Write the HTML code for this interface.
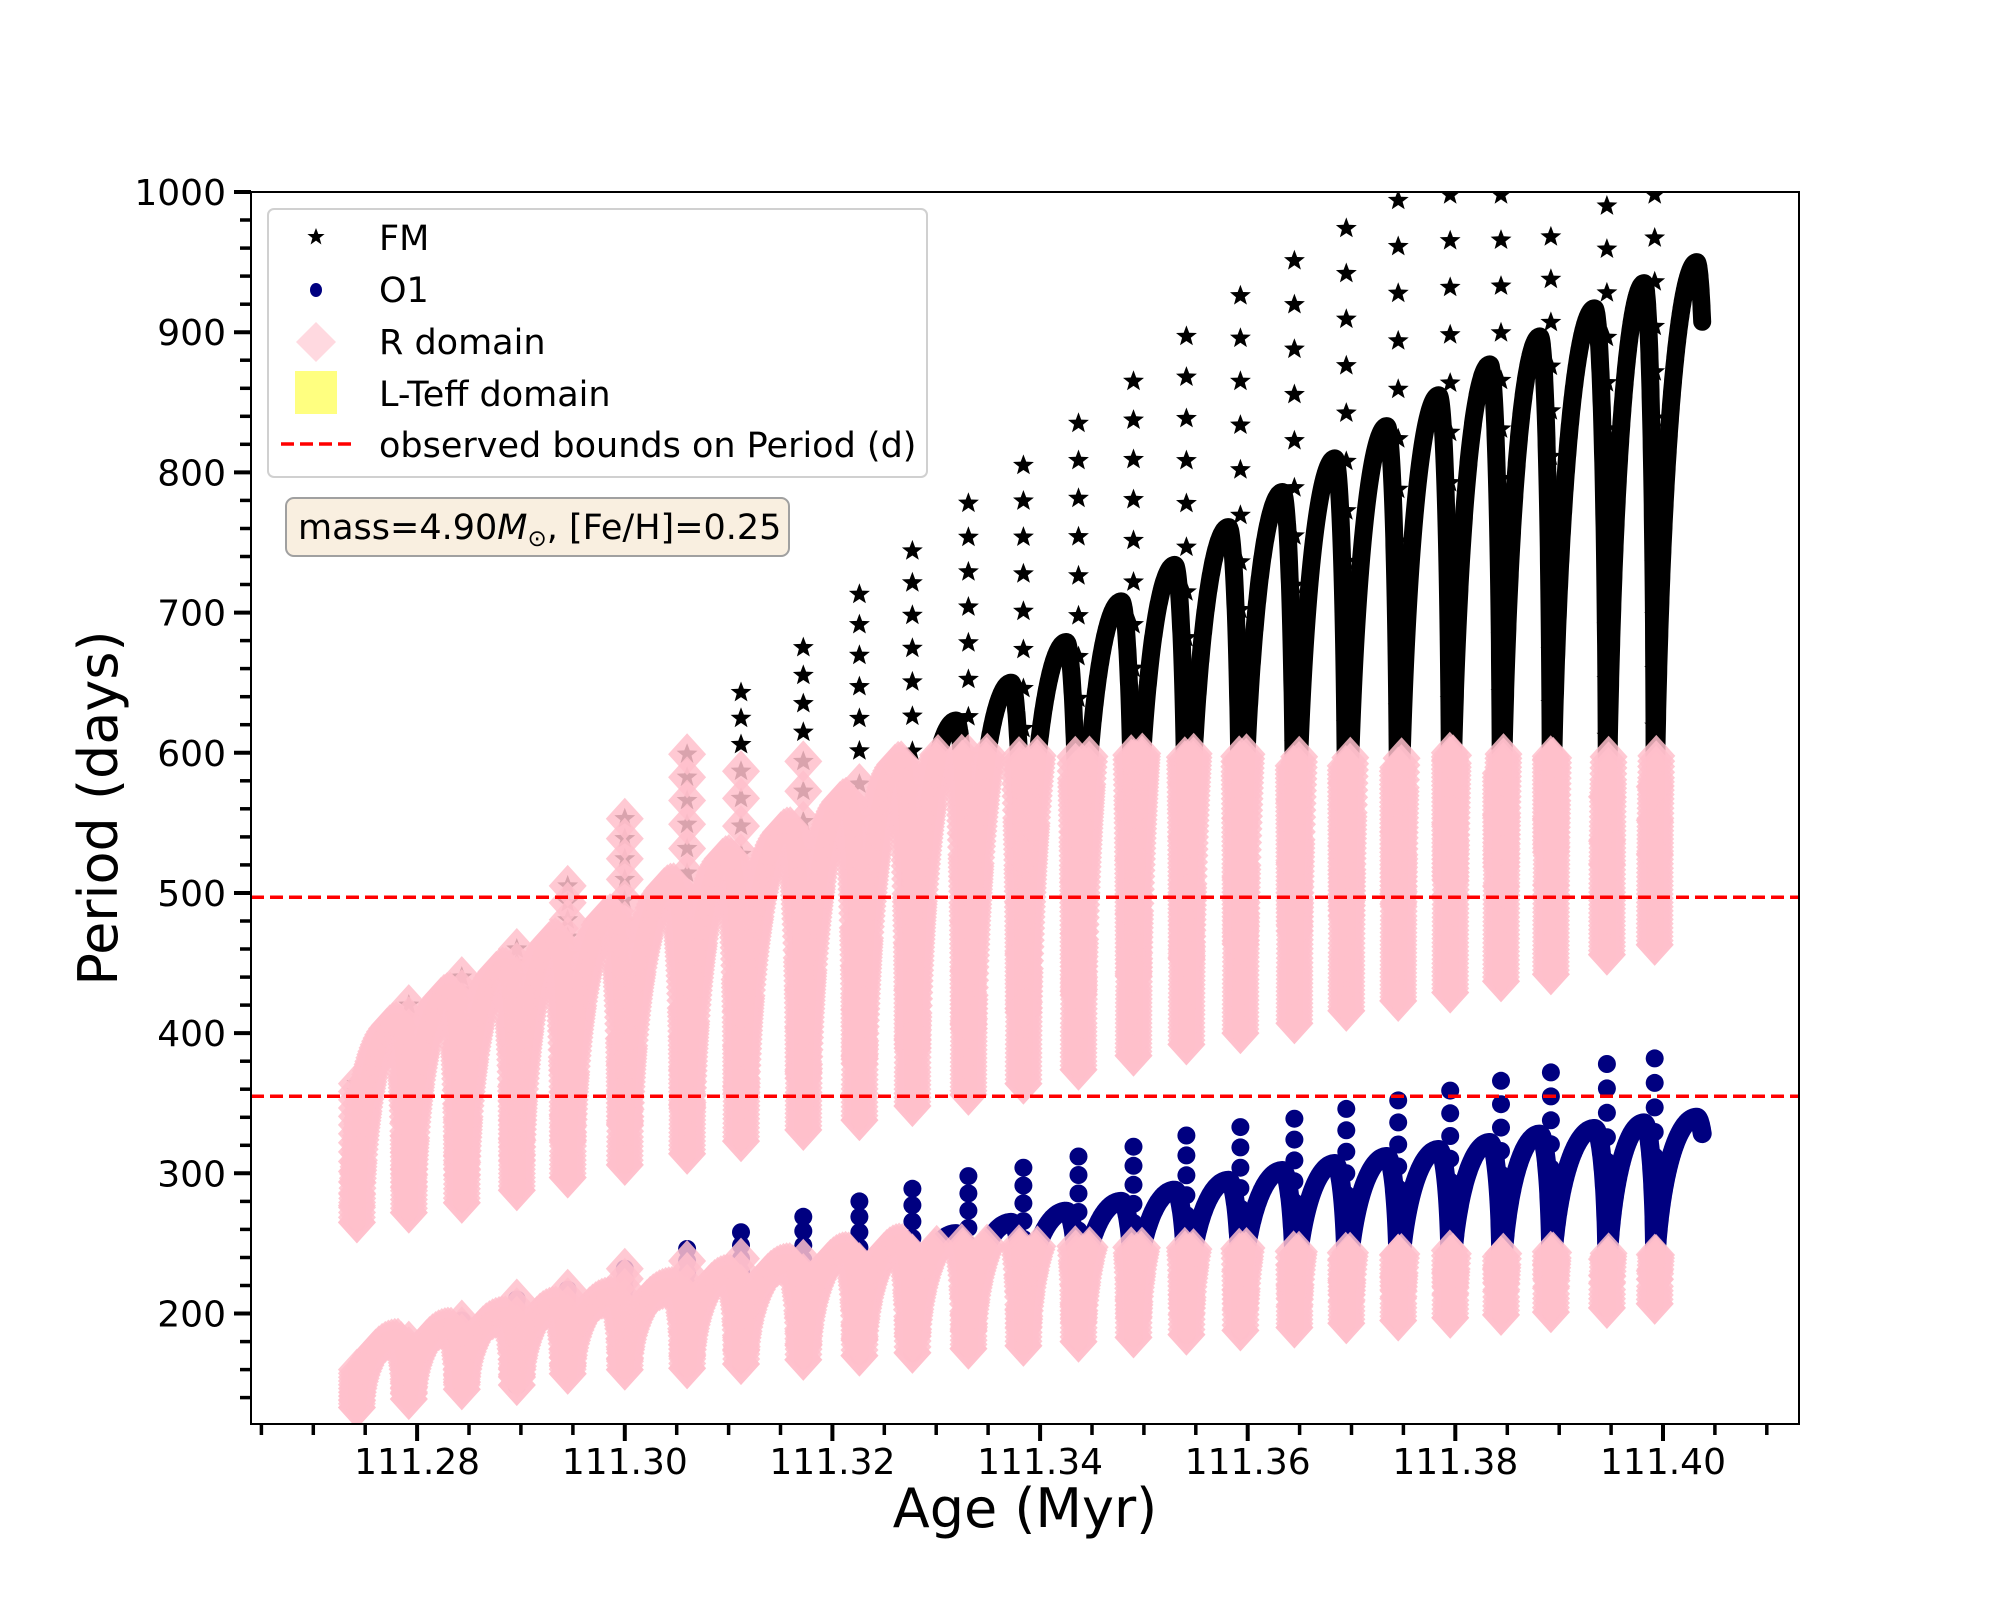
<!DOCTYPE html>
<html><head><meta charset="utf-8"><style>
html,body{margin:0;padding:0;background:#fff;}
svg{display:block;font-family:"DejaVu Sans","Liberation Sans",sans-serif;}
</style></head><body>
<svg id="chart" width="2000" height="1600" viewBox="0 0 2000 1600" xmlns="http://www.w3.org/2000/svg">
<defs><clipPath id="plotclip"><rect x="251" y="192" width="1548" height="1232"/></clipPath></defs>
<rect x="0" y="0" width="2000" height="1600" fill="#fff"/>
<g id="marks" clip-path="url(#plotclip)"></g>
<g id="axes"></g>
<rect x="251" y="192" width="1548" height="1232" fill="none" stroke="#000" stroke-width="2"/>
<text x="1025" y="1527" font-size="54" text-anchor="middle">Age (Myr)</text>
<text x="0" y="0" font-size="54" text-anchor="middle" transform="translate(117,808) rotate(-90)">Period (days)</text>
<g>
<rect x="268" y="209" width="659" height="268" rx="6" fill="#fff" fill-opacity="0.85" stroke="#d0d0d0" stroke-width="2"/>
<polygon points="316,228 318.3,234 324.6,234 319.6,238 321.4,244.5 316,240.6 310.6,244.5 312.4,238 307.4,234 313.7,234" fill="#000"/>
<text x="379" y="250" font-size="35">FM</text>
<ellipse cx="316" cy="290" rx="6" ry="7" fill="#000080"/>
<text x="379" y="302" font-size="35">O1</text>
<polygon points="316,322 336,342 316,362 296,342" fill="#ffc0cb" fill-opacity="0.6"/>
<text x="379" y="354" font-size="35">R domain</text>
<rect x="295" y="371" width="42" height="43" fill="#ffff80"/>
<text x="379" y="406" font-size="35">L-Teff domain</text>
<line x1="281" y1="444" x2="351" y2="444" stroke="#ff0000" stroke-width="3.5" stroke-dasharray="13,6"/>
<text x="379" y="457" font-size="35">observed bounds on Period (d)</text>
</g>
<g>
<rect x="286" y="498" width="503" height="58" rx="8" fill="#f9efe0" stroke="#a0a0a0" stroke-width="2"/>
<text x="298" y="539" font-size="35">mass=4.90<tspan font-style="italic">M</tspan><tspan font-size="23" dy="7">⊙</tspan><tspan dy="-7">, [Fe/H]=0.25</tspan></text>
</g>
</svg>
<script>
// ---- data ----
const cycleStartAge = [111.2742,111.2792,111.2843,111.2896,111.2945,111.3000,111.3060,111.3112,111.3172,111.3226,111.3277,111.3331,111.3384,111.3437,111.3490,111.3541,111.3593,111.3645,111.3695,111.3745,111.3795,111.3844,111.3892,111.3946,111.3992];
const fmLow   = [265,272,279,288,297,306,314,323,331,338,348,356,364,374,384,392,400,407,416,423,429,437,442,456,463];
const fmPeak  = [408,429,447,468,485,507,527,547,568,594,623,650,679,708,734,761,786,810,833,855,877,897,917,935,950];
const fmSpike = [364,420,440,460,505,553,599,643,675,713,744,778,805,835,865,897,926,951,974,994,998,998,968,990,998];
const o1Low   = [133,139,146,149,157,160,161,164,167,170,172,175,177,180,183,185,188,190,193,195,197,199,201,204,207];
const o1Peak  = [182,190,198,205,212,219,228,236,244,250,257,265,273,280,288,295,302,307,312,317,322,328,332,336,340];
const o1Spike = [160,180,195,210,217,232,246,258,269,280,289,298,304,312,319,327,333,339,346,352,359,366,372,378,382];
const boundLines = [497,355];
const rDomainMaxFM = 600;
const rDomainMaxO1 = 245;
const yTickLabels = [200,300,400,500,600,700,800,900,1000];
const xTickLabels = ["111.28","111.30","111.32","111.34","111.36","111.38","111.40"];

// ---- axes ----
const X0=251,X1=1799,Y0=192,Y1=1424;
const AMIN=111.264,AMAX=111.4131,VMIN=121.2,VMAX=1000;
function xs(a){return X0+(a-AMIN)/(AMAX-AMIN)*(X1-X0);}
function ys(v){return Y0+(VMAX-v)/(VMAX-VMIN)*(Y1-Y0);}
const NS="http://www.w3.org/2000/svg";
function mk(tag,attrs,parent){const e=document.createElementNS(NS,tag);for(const k in attrs)e.setAttribute(k,attrs[k]);parent.appendChild(e);return e;}
const marks=document.getElementById('marks'),axes=document.getElementById('axes');

function g(t){ // arc shape
  const tp=0.78;
  if(t<=tp){const u=1-t/tp;return Math.sqrt(Math.max(0,1-u*u));}
  const u=(t-tp)/(1-tp);return 1-0.8*(1-Math.sqrt(Math.max(0,1-u*u)));
}
function starPts(cx,cy,R){let p=[];for(let i=0;i<10;i++){const r=i%2?R*0.42:R;const an=-Math.PI/2+i*Math.PI/5;p.push((cx+r*Math.cos(an)).toFixed(1)+','+(cy+r*Math.sin(an)).toFixed(1));}return p.join(' ');}

const gFM=mk('g',{},marks);


const gO1=mk('g',{},marks);


const gR=mk('g',{fill:'#ffc0cb','fill-opacity':'0.85'},marks);



// push point, filling gaps from previous point in same run (arcs only)
function pushFill(arr,prev,p){
  if(prev){
    const dx=p[0]-prev[0],dy=p[1]-prev[1];
    const d=Math.hypot(dx,dy);
    const steps=Math.floor(d/4);
    for(let s=1;s<steps;s++){arr.push([prev[0]+dx*s/steps,prev[1]+dy*s/steps]);}
  }
  arr.push(p);
}

const n=cycleStartAge.length;
for(let k=0;k<n;k++){
  const a0=cycleStartAge[k];
  const last=(k===n-1);
  const W=last?0.0052:(cycleStartAge[k+1]-a0);
  const tmax=last?0.88:1;
  const N=260;
  let fmPts=[],o1Pts=[],pinkFM=[],pinkO1=[];
  let prevF=null,prevO=null;
  for(let j=0;j<=N;j++){
    const t=j/N*tmax;
    const a=a0+t*W;
    const gv=g(t);
    const fv=fmLow[k]+(fmPeak[k]-fmLow[k])*gv;
    const ov=o1Low[k]+(o1Peak[k]-o1Low[k])*gv;
    const pf=[xs(a),ys(fv)],po=[xs(a),ys(ov)];
    fmPts.push(pf);
    o1Pts.push(po);
    if(fv<=rDomainMaxFM){pushFill(pinkFM,prevF,pf);prevF=pf;}else{prevF=null;}
    if(fv<=rDomainMaxFM||ov<=rDomainMaxO1){pushFill(pinkO1,prevO,po);prevO=po;}else{prevO=null;}
  }
  const fmLine=mk('polyline',{points:fmPts.map(p=>p[0].toFixed(1)+','+p[1].toFixed(1)).join(' '),fill:'none',stroke:'#000','stroke-width':18,'stroke-linejoin':'round','stroke-linecap':'round'},gFM);
  
  
  const o1Line=mk('polyline',{points:o1Pts.map(p=>p[0].toFixed(1)+','+p[1].toFixed(1)).join(' '),fill:'none',stroke:'#000080','stroke-width':19,'stroke-linejoin':'round','stroke-linecap':'round'},gO1);
  
  
  // star column (fast phase) at cycle start
  const cx=xs(a0);
  const ns=14;
  for(let s=0;s<=ns;s++){
    const v=fmLow[k]+(fmSpike[k]-fmLow[k])*Math.pow(s/ns,0.8);
    const st=mk('polygon',{points:starPts(cx,ys(v),11),fill:'#000'},gFM);
    
    
    if(v<=rDomainMaxFM){pinkFM.push([cx,ys(v)]);}
  }
  for(let s=0;s<=10;s++){
    if(o1Spike[k]<=o1Low[k])break;
    const v=o1Low[k]+(o1Spike[k]-o1Low[k])*s/10;
    const d=mk('circle',{cx:cx.toFixed(1),cy:ys(v).toFixed(1),r:9,fill:'#000080'},gO1);
    
    
    if(v<=rDomainMaxO1){pinkO1.push([cx,ys(v)]);}
  }
  // pink diamonds (R domain)
  for(const set of [pinkFM,pinkO1]){
    let lx=-99,ly=-99;
    for(const p of set){
      if(Math.abs(p[0]-lx)<3&&Math.abs(p[1]-ly)<3)continue;
      lx=p[0];ly=p[1];
      const dm=mk('polygon',{points:`${p[0].toFixed(1)},${(p[1]-21).toFixed(1)} ${(p[0]+19).toFixed(1)},${p[1].toFixed(1)} ${p[0].toFixed(1)},${(p[1]+21).toFixed(1)} ${(p[0]-19).toFixed(1)},${p[1].toFixed(1)}`},gR);
      
      
    }
  }
}
// bound lines
for(const b of boundLines){
  const l=mk('line',{x1:X0,x2:X1,y1:ys(b).toFixed(1),y2:ys(b).toFixed(1),stroke:'#ff0000','stroke-width':3.5,'stroke-dasharray':'13,6'},marks);
  
  
}
// y ticks
for(let v=140;v<=1000;v+=20){
  const major=(v%100===0);
  const y=ys(v);
  const t=mk('line',{x1:X0,x2:X0-(major?17:11),y1:y.toFixed(1),y2:y.toFixed(1),stroke:'#000','stroke-width':major?4:3.5},axes);
  
  
}
for(const v of yTickLabels){
  const tx=mk('text',{x:226,y:(ys(v)+13).toFixed(1),'font-size':36,'text-anchor':'end'},axes);
  tx.textContent=String(v);
  
  
}
// x ticks
for(let i=0;i<=29;i++){
  const a=111.265+i*0.005;
  const major=(Math.abs(((a-111.28)/0.02)-Math.round((a-111.28)/0.02))<1e-6);
  const x=xs(a);
  const t=mk('line',{x1:x.toFixed(1),x2:x.toFixed(1),y1:Y1,y2:Y1+(major?17:11),stroke:'#000','stroke-width':major?4:3.5},axes);
  
  
}
for(const s of xTickLabels){
  const tx=mk('text',{x:xs(parseFloat(s)).toFixed(1),y:1474,'font-size':36,'text-anchor':'middle'},axes);
  tx.textContent=s;
  
  
}
</script>
</body></html>
